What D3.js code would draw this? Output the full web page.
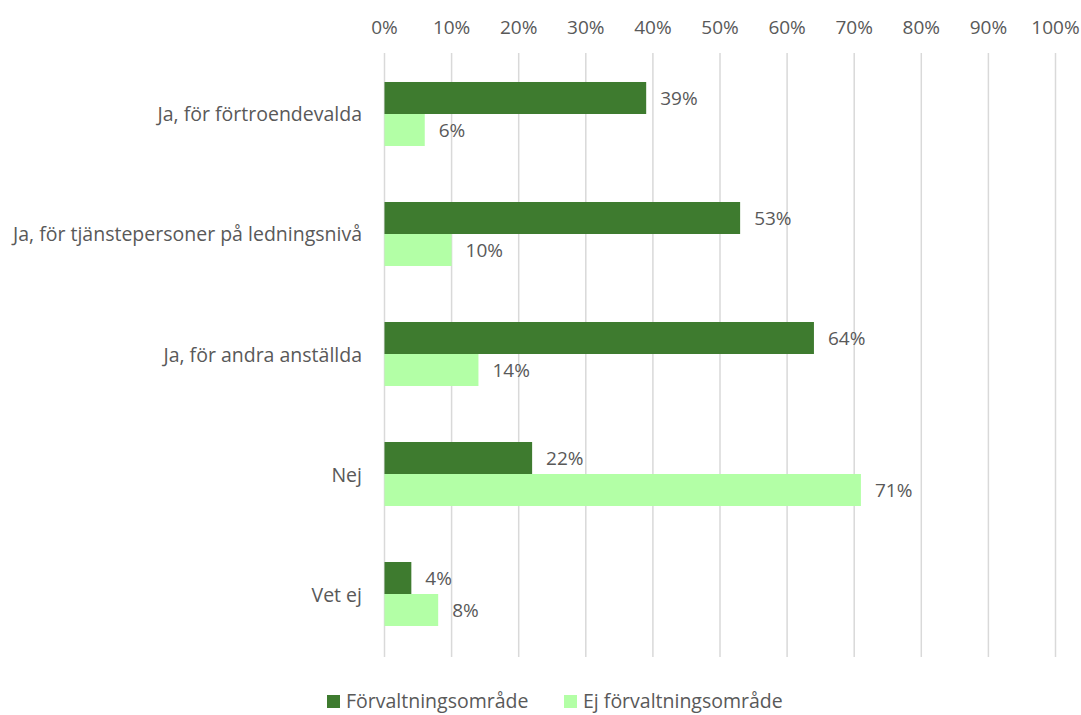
<!DOCTYPE html>
<html>
<head>
<meta charset="utf-8">
<script src="https://cdn.jsdelivr.net/npm/d3@7"></script>
<style>
  body { margin: 0; background: #fff; overflow: hidden; }
  svg text { font-family: "Open Sans", "Noto Sans", sans-serif; fill: #595959; }
</style>
</head>
<body>
<div id="chart"></div>
<script>
// --- DATA ---
const categories = [
  "Ja, för förtroendevalda",
  "Ja, för tjänstepersoner på ledningsnivå",
  "Ja, för andra anställda",
  "Nej",
  "Vet ej"
];
const seriesNames = ["Förvaltningsområde", "Ej förvaltningsområde"];
const forvaltning = [39, 53, 64, 22, 4];
const ejForvaltning = [6, 10, 14, 71, 8];
const xTicks = [0, 10, 20, 30, 40, 50, 60, 70, 80, 90, 100];

const colors = ["#3e7b2f", "#b3ffa6"];

// --- LAYOUT ---
const width = 1081, height = 715;
const svg = d3.select("#chart").append("svg")
  .attr("width", width).attr("height", height);

const x = d3.scaleLinear().domain([0, 100]).range([384.5, 1055.5]);
const y = d3.scaleBand().domain(categories).range([54, 654]).paddingInner(0.4667).paddingOuter(0.2333);
const ySub = d3.scaleBand().domain(seriesNames).range([0, y.bandwidth()]);

// gridlines
svg.append("g").selectAll("line")
  .data(xTicks).enter().append("line")
  .attr("x1", d => x(d)).attr("x2", d => x(d))
  .attr("y1", 53).attr("y2", 657)
  .attr("stroke", "#d9d9d9").attr("stroke-width", 1.5);

// top tick labels
svg.append("g").selectAll("text")
  .data(xTicks).enter().append("text")
  .attr("x", d => x(d)).attr("y", 27)
  .attr("text-anchor", "middle").attr("dominant-baseline", "central")
  .style("font-size", "19px")
  .text(d => d + "%");

// category labels
svg.append("g").selectAll("text")
  .data(categories).enter().append("text")
  .attr("x", 362).attr("y", d => y(d) + y.bandwidth() / 2)
  .attr("text-anchor", "end").attr("dominant-baseline", "central")
  .style("font-size", "19.5px")
  .text(d => d);

// bars
const rows = categories.map((c, i) => ({ cat: c, vals: [forvaltning[i], ejForvaltning[i]] }));
const groups = svg.append("g").selectAll("g")
  .data(rows).enter().append("g")
  .attr("transform", d => `translate(0,${y(d.cat)})`);

groups.selectAll("rect")
  .data(d => d.vals.map((v, j) => ({ v, s: seriesNames[j], j })))
  .enter().append("rect")
  .attr("x", x(0))
  .attr("y", d => ySub(d.s))
  .attr("width", d => x(d.v) - x(0))
  .attr("height", ySub.bandwidth())
  .attr("fill", d => colors[d.j]);

groups.selectAll("text")
  .data(d => d.vals.map((v, j) => ({ v, s: seriesNames[j], j })))
  .enter().append("text")
  .attr("x", d => x(d.v) + 14)
  .attr("y", d => ySub(d.s) + ySub.bandwidth() / 2)
  .attr("dominant-baseline", "central")
  .style("font-size", "19px")
  .text(d => d.v + "%");

// legend
const legendX = [327, 564];
const legend = svg.append("g").selectAll("g")
  .data(seriesNames).enter().append("g")
  .attr("transform", (d, i) => `translate(${legendX[i]},700)`);
legend.append("rect")
  .attr("x", 0).attr("y", -5).attr("width", 13).attr("height", 13)
  .attr("fill", (d, i) => colors[i]);
legend.append("text")
  .attr("x", 19).attr("y", 0)
  .attr("dominant-baseline", "central")
  .style("font-size", "19.5px")
  .text(d => d);
</script>
</body>
</html>
